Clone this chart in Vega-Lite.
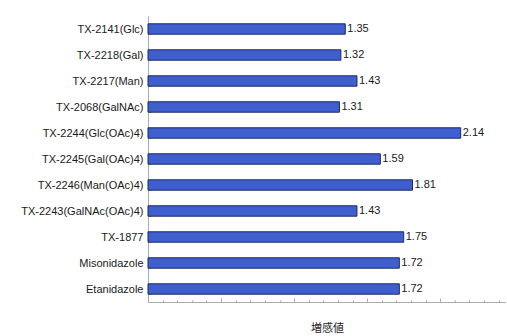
{
  "$schema": "https://vega.github.io/schema/vega-lite/v6.json",
  "width": 358,
  "height": 286,
  "padding": {"left": 20, "top": 10, "right": 0, "bottom": 5},
  "background": "white",
  "config": {
    "view": {"stroke": null},
    "font": "Liberation Sans",
    "axis": {"labelFont": "Liberation Sans", "titleFont": "Noto Sans CJK JP"}
  },
  "data": {
    "values": [
      {"compound": "TX-2141(Glc)", "value": 1.35},
      {"compound": "TX-2218(Gal)", "value": 1.32},
      {"compound": "TX-2217(Man)", "value": 1.43},
      {"compound": "TX-2068(GalNAc)", "value": 1.31},
      {"compound": "TX-2244(Glc(OAc)4)", "value": 2.14},
      {"compound": "TX-2245(Gal(OAc)4)", "value": 1.59},
      {"compound": "TX-2246(Man(OAc)4)", "value": 1.81},
      {"compound": "TX-2243(GalNAc(OAc)4)", "value": 1.43},
      {"compound": "TX-1877", "value": 1.75},
      {"compound": "Misonidazole", "value": 1.72},
      {"compound": "Etanidazole", "value": 1.72}
    ]
  },
  "encoding": {
    "y": {
      "field": "compound",
      "type": "nominal",
      "sort": null,
      "scale": {"paddingInner": 0.6, "paddingOuter": 0.3},
      "axis": {
        "title": null,
        "labelFontSize": 11,
        "labelColor": "#1a1a1a",
        "labelPadding": 8,
        "tickBand": "extent",
        "tickSize": -3,
        "tickColor": "#aaaaaa",
        "domainColor": "#aaaaaa"
      }
    }
  },
  "layer": [
    {
      "mark": {"type": "bar", "fill": "#3f5fcf", "stroke": "#1c2a66", "strokeWidth": 1},
      "encoding": {
        "x": {
          "field": "value",
          "type": "quantitative",
          "scale": {"domain": [0, 2.45], "nice": false},
          "axis": {
            "orient": "bottom",
            "values": [0, 0.5, 1, 1.5, 2],
            "labels": false,
            "tickSize": -4,
            "tickColor": "#aaaaaa",
            "domainColor": "#aaaaaa",
            "grid": false,
            "title": "増感値",
            "titleFontSize": 11,
            "titleFontWeight": "normal",
            "titleColor": "#222222",
            "titlePadding": 20
          }
        }
      }
    },
    {
      "mark": {"type": "text", "align": "left", "dx": 2, "fontSize": 11, "color": "#1a1a1a"},
      "encoding": {
        "x": {
          "field": "value",
          "type": "quantitative",
          "scale": {"domain": [0, 2.45], "nice": false},
          "axis": {
            "orient": "bottom",
            "values": [0.1, 0.2, 0.3, 0.4, 0.6, 0.7, 0.8, 0.9, 1.1, 1.2, 1.3, 1.4, 1.6, 1.7, 1.8, 1.9, 2.1, 2.2, 2.3, 2.4],
            "labels": false,
            "domain": false,
            "tickSize": -2,
            "tickColor": "#aaaaaa",
            "grid": false,
            "title": null
          }
        },
        "text": {"field": "value", "type": "quantitative", "format": ".2f"}
      }
    }
  ],
  "resolve": {"axis": {"x": "independent"}}
}
